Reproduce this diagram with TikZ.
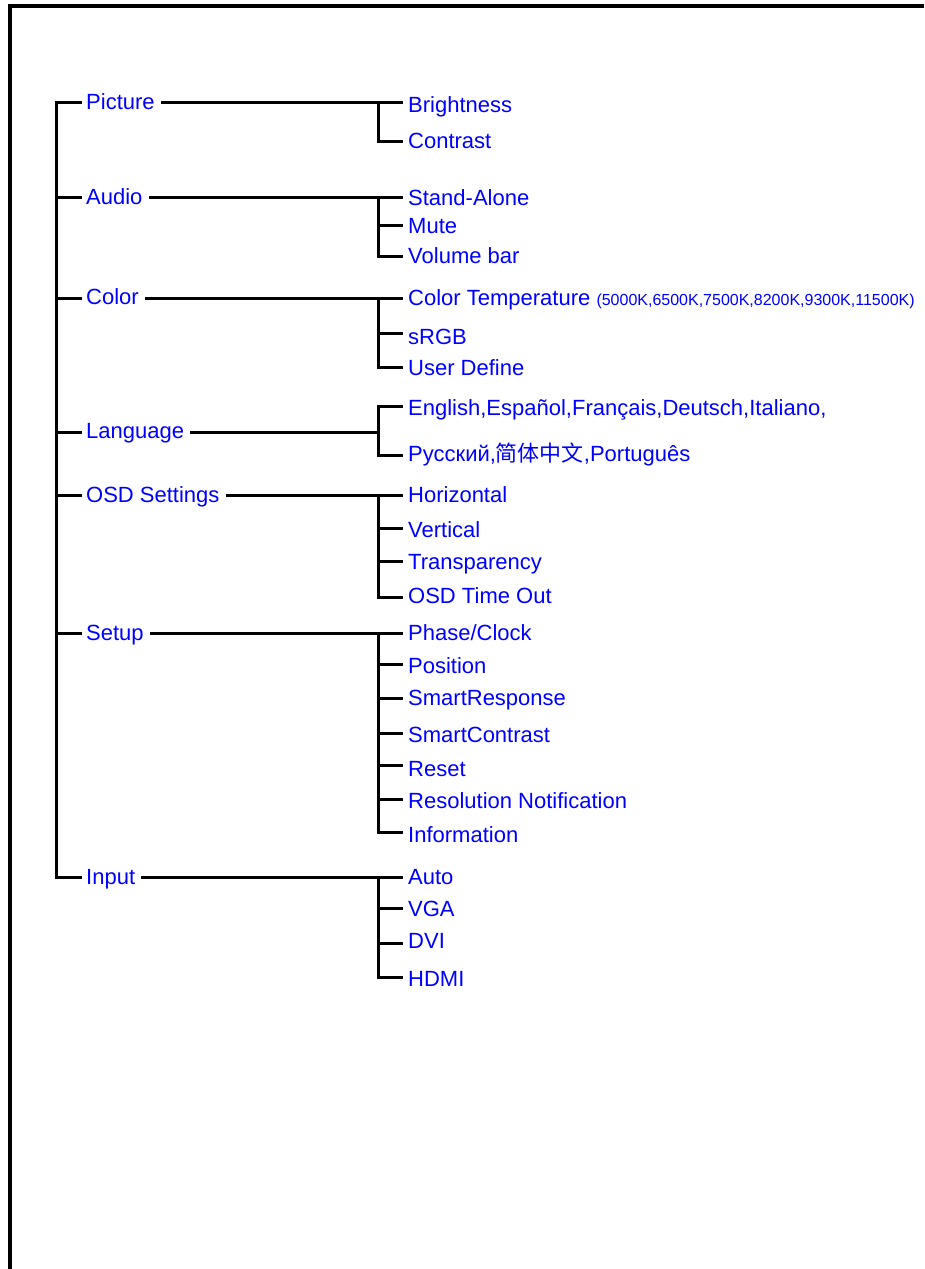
\documentclass[tikz,border=0pt]{standalone}
\usepackage{fontspec}
\setmainfont{Liberation Sans}
\newfontfamily\cjk{Noto Sans CJK SC}
\definecolor{txtblue}{RGB}{0,0,255}
\begin{document}
\begin{tikzpicture}[x=1pt,y=-1pt,
  ln/.style={line width=3pt, line cap=rect, line join=miter},
  lab/.style={anchor=base west, inner sep=0pt, text=txtblue, font=\fontsize{22}{26}\selectfont}]
\useasboundingbox (0,0) rectangle (924,1269);
% frame
\draw[line width=3.2pt] (10,1269) -- (10,6) -- (924,6);

% main labels
\node[lab] (m1) at (86,109) {Picture};
\node[lab] (m2) at (86,204) {Audio};
\node[lab] (m3) at (86,304) {Color};
\node[lab] (m4) at (86,438) {Language};
\node[lab] (m5) at (86,502) {OSD Settings};
\node[lab] (m6) at (86,640) {Setup};
\node[lab] (m7) at (86,884) {Input};

% branch points on trunk
\coordinate (b1) at (56,102);
\coordinate (b2) at (56,197);
\coordinate (b3) at (56,298);
\coordinate (b4) at (56,432);
\coordinate (b5) at (56,495);
\coordinate (b6) at (56,633);
\coordinate (b7) at (56,877);

% trunk
\draw[ln] ([xshift=-5.5pt]b1 -| m1.west) -- (b1) -- (b7) -- ([xshift=-5.5pt]b7 -| m7.west);
\foreach \i in {2,...,6}{
  \draw[ln] (b\i) -- ([xshift=-5.5pt]b\i -| m\i.west);
}

% junctions
\coordinate (j1) at (378,102);
\coordinate (j2) at (378,197);
\coordinate (j3) at (378,298);
\coordinate (j4) at (378,432);
\coordinate (j5) at (378,495);
\coordinate (j6) at (378,633);
\coordinate (j7) at (378,877);
\foreach \i in {1,...,7}{
  \draw[ln] ([xshift=7.5pt]m\i.east |- b\i) -- (j\i);
}

% sub items: Picture
\node[lab] (s11) at (408,112) {Brightness};
\node[lab] (s12) at (408,148) {Contrast};
\coordinate (c11) at (401,102);
\coordinate (c12) at (401,141);
\draw[ln] (c11) -- (j1) |- (c12);

% Audio
\node[lab] (s21) at (408,205) {Stand-Alone};
\node[lab] (s22) at (408,233) {Mute};
\node[lab] (s23) at (408,263) {Volume bar};
\coordinate (c21) at (401,197);
\coordinate (c22) at (401,225);
\coordinate (c23) at (401,256);
\draw[ln] (c21) -- (j2) |- (c23);
\draw[ln] (j2 |- c22) -- (c22);

% Color
\node[lab] (s31) at (408,305) {Color Temperature {\fontsize{16}{18}\selectfont (5000K,6500K,7500K,8200K,9300K,11500K)}};
\node[lab] (s32) at (408,344) {sRGB};
\node[lab] (s33) at (408,375) {User Define};
\coordinate (c31) at (401,298);
\coordinate (c32) at (401,333);
\coordinate (c33) at (401,367);
\draw[ln] (c31) -- (j3) |- (c33);
\draw[ln] (j3 |- c32) -- (c32);

% Language
\node[lab] (s41) at (408,415) {English,Español,Français,Deutsch,Italiano,};
\node[lab] (s42) at (408,461) {Русский,{\cjk 简体中文},Português};
\coordinate (c41) at (401,406);
\coordinate (c42) at (401,455);
\draw[ln] (c41) -| (j4 |- c41) |- (c42);

% OSD Settings
\node[lab] (s51) at (408,502) {Horizontal};
\node[lab] (s52) at (408,537) {Vertical};
\node[lab] (s53) at (408,569) {Transparency};
\node[lab] (s54) at (408,603) {OSD Time Out};
\coordinate (c51) at (401,495);
\coordinate (c52) at (401,528);
\coordinate (c53) at (401,561);
\coordinate (c54) at (401,597);
\draw[ln] (c51) -- (j5) |- (c54);
\foreach \k in {2,3}{\draw[ln] (j5 |- c5\k) -- (c5\k);}

% Setup
\node[lab] (s61) at (408,640) {Phase/Clock};
\node[lab] (s62) at (408,673) {Position};
\node[lab] (s63) at (408,705) {SmartResponse};
\node[lab] (s64) at (408,742) {SmartContrast};
\node[lab] (s65) at (408,776) {Reset};
\node[lab] (s66) at (408,808) {Resolution Notification};
\node[lab] (s67) at (408,842) {Information};
\coordinate (c61) at (401,633);
\coordinate (c62) at (401,664);
\coordinate (c63) at (401,698);
\coordinate (c64) at (401,733);
\coordinate (c65) at (401,765);
\coordinate (c66) at (401,799);
\coordinate (c67) at (401,832);
\draw[ln] (c61) -- (j6) |- (c67);
\foreach \k in {2,...,6}{\draw[ln] (j6 |- c6\k) -- (c6\k);}

% Input
\node[lab] (s71) at (408,884) {Auto};
\node[lab] (s72) at (408,916) {VGA};
\node[lab] (s73) at (408,948) {DVI};
\node[lab] (s74) at (408,986) {HDMI};
\coordinate (c71) at (401,877);
\coordinate (c72) at (401,908);
\coordinate (c73) at (401,943);
\coordinate (c74) at (401,977);
\draw[ln] (c71) -- (j7) |- (c74);
\foreach \k in {2,3}{\draw[ln] (j7 |- c7\k) -- (c7\k);}
\end{tikzpicture}
\end{document}
